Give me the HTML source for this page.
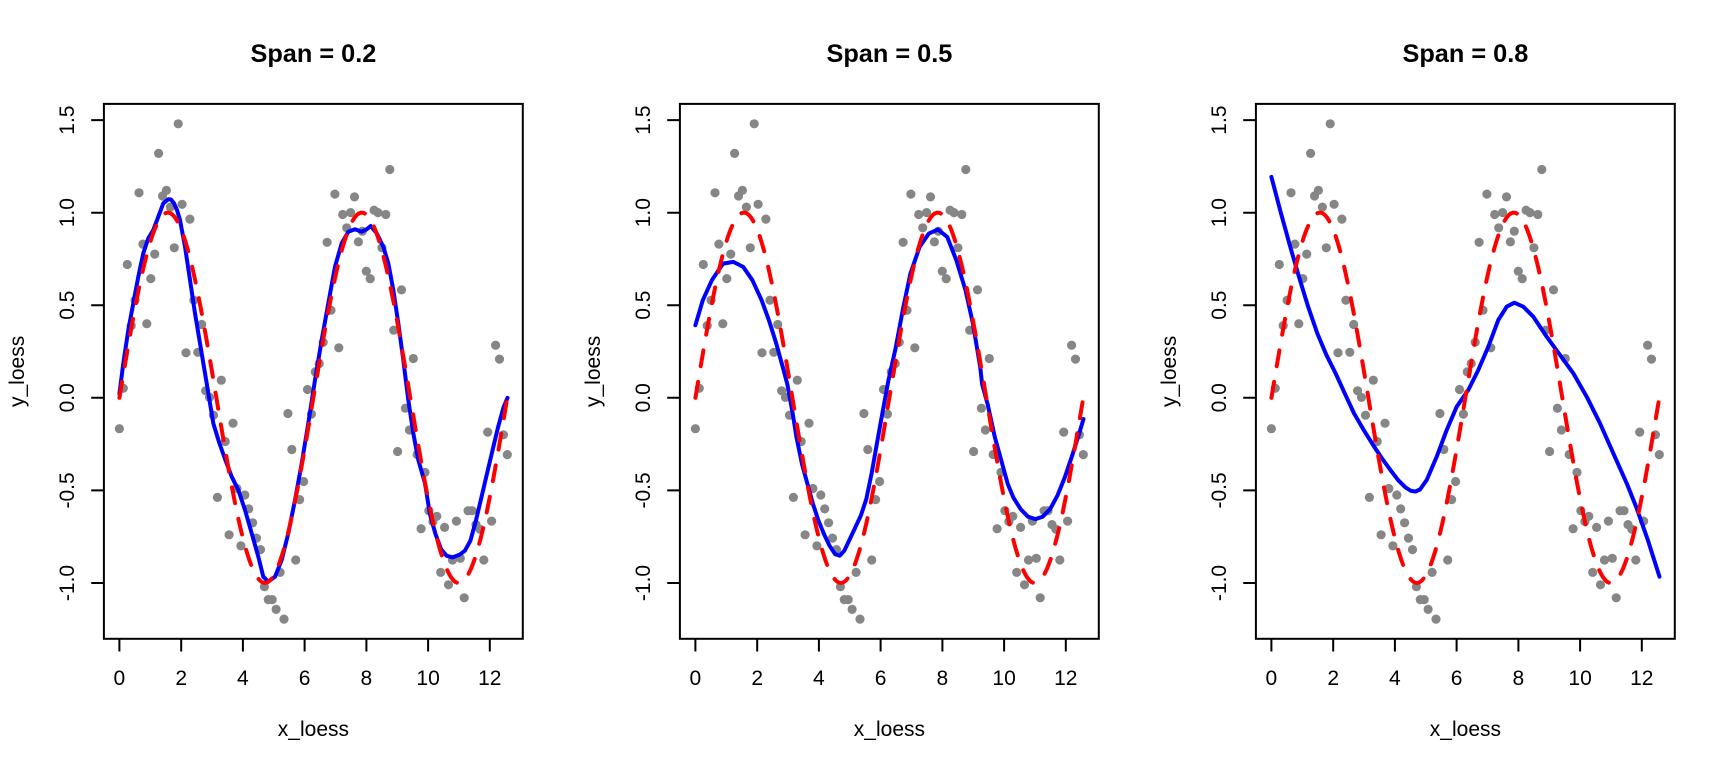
<!DOCTYPE html>
<html>
<head>
<meta charset="utf-8">
<style>
  html, body { margin: 0; padding: 0; background: #ffffff; }
  svg { display: block; }
  text { font-family: "Liberation Sans", Arial, sans-serif; fill: #000; }
  .tick { font-size: 21px; }
  .lab { font-size: 21px; }
  .ttl { font-size: 25.3px; font-weight: bold; }
</style>
</head>
<body>
<svg width="1728" height="768" viewBox="0 0 1728 768" xmlns="http://www.w3.org/2000/svg">
<rect x="0" y="0" width="1728" height="768" fill="#ffffff"/>
<defs>
  <g id="pts" fill="#868686">
    <circle cx="119.4" cy="428.7" r="4.6"/><circle cx="123.3" cy="388.2" r="4.6"/><circle cx="127.3" cy="264.5" r="4.6"/><circle cx="131.2" cy="325.6" r="4.6"/><circle cx="135.1" cy="300.2" r="4.6"/>
    <circle cx="139.0" cy="192.8" r="4.6"/><circle cx="142.9" cy="244.1" r="4.6"/><circle cx="146.8" cy="323.7" r="4.6"/><circle cx="150.8" cy="278.6" r="4.6"/><circle cx="154.7" cy="254.1" r="4.6"/>
    <circle cx="158.6" cy="153.4" r="4.6"/><circle cx="162.5" cy="196.0" r="4.6"/><circle cx="166.4" cy="190.4" r="4.6"/><circle cx="170.4" cy="207.1" r="4.6"/><circle cx="174.3" cy="247.8" r="4.6"/>
    <circle cx="178.2" cy="123.8" r="4.6"/><circle cx="182.1" cy="204.3" r="4.6"/><circle cx="186.0" cy="352.8" r="4.6"/><circle cx="189.9" cy="219.1" r="4.6"/><circle cx="193.9" cy="300.2" r="4.6"/>
    <circle cx="197.8" cy="352.3" r="4.6"/><circle cx="201.7" cy="324.5" r="4.6"/><circle cx="205.6" cy="390.8" r="4.6"/><circle cx="209.5" cy="397.4" r="4.6"/><circle cx="213.5" cy="415.2" r="4.6"/>
    <circle cx="217.4" cy="497.4" r="4.6"/><circle cx="221.3" cy="380.2" r="4.6"/><circle cx="225.2" cy="441.5" r="4.6"/><circle cx="229.1" cy="534.8" r="4.6"/><circle cx="233.0" cy="423.2" r="4.6"/>
    <circle cx="236.9" cy="488.5" r="4.6"/><circle cx="240.9" cy="545.9" r="4.6"/><circle cx="244.8" cy="495.0" r="4.6"/><circle cx="248.7" cy="508.9" r="4.6"/><circle cx="252.6" cy="522.8" r="4.6"/>
    <circle cx="256.5" cy="538.1" r="4.6"/><circle cx="260.5" cy="549.6" r="4.6"/><circle cx="264.4" cy="586.7" r="4.6"/><circle cx="268.3" cy="599.6" r="4.6"/><circle cx="272.2" cy="599.6" r="4.6"/>
    <circle cx="276.1" cy="609.4" r="4.6"/><circle cx="280.1" cy="572.4" r="4.6"/><circle cx="284.0" cy="619.1" r="4.6"/><circle cx="287.9" cy="413.5" r="4.6"/><circle cx="291.8" cy="449.5" r="4.6"/>
    <circle cx="295.7" cy="560.0" r="4.6"/><circle cx="299.6" cy="499.6" r="4.6"/><circle cx="303.6" cy="481.5" r="4.6"/><circle cx="307.5" cy="389.5" r="4.6"/><circle cx="311.4" cy="414.1" r="4.6"/>
    <circle cx="315.3" cy="371.9" r="4.6"/><circle cx="319.2" cy="363.5" r="4.6"/><circle cx="323.2" cy="342.3" r="4.6"/><circle cx="327.1" cy="242.3" r="4.6"/><circle cx="331.0" cy="310.2" r="4.6"/>
    <circle cx="334.9" cy="194.1" r="4.6"/><circle cx="338.8" cy="347.8" r="4.6"/><circle cx="342.7" cy="214.5" r="4.6"/><circle cx="346.7" cy="227.8" r="4.6"/><circle cx="350.6" cy="212.6" r="4.6"/>
    <circle cx="354.5" cy="196.9" r="4.6"/><circle cx="358.4" cy="241.9" r="4.6"/><circle cx="362.3" cy="231.2" r="4.6"/><circle cx="366.3" cy="271.2" r="4.6"/><circle cx="370.2" cy="278.7" r="4.6"/>
    <circle cx="374.1" cy="210.2" r="4.6"/><circle cx="378.0" cy="212.6" r="4.6"/><circle cx="381.9" cy="247.8" r="4.6"/><circle cx="385.8" cy="214.5" r="4.6"/><circle cx="389.8" cy="169.5" r="4.6"/>
    <circle cx="393.7" cy="330.2" r="4.6"/><circle cx="397.6" cy="451.5" r="4.6"/><circle cx="401.5" cy="289.9" r="4.6"/><circle cx="405.4" cy="408.2" r="4.6"/><circle cx="409.4" cy="430.0" r="4.6"/>
    <circle cx="413.3" cy="358.5" r="4.6"/><circle cx="417.2" cy="454.5" r="4.6"/><circle cx="421.1" cy="528.7" r="4.6"/><circle cx="425.0" cy="472.4" r="4.6"/><circle cx="428.9" cy="510.7" r="4.6"/>
    <circle cx="432.9" cy="521.5" r="4.6"/><circle cx="436.8" cy="516.3" r="4.6"/><circle cx="440.7" cy="572.4" r="4.6"/><circle cx="444.6" cy="527.4" r="4.6"/><circle cx="448.5" cy="584.8" r="4.6"/>
    <circle cx="452.5" cy="560.0" r="4.6"/><circle cx="456.4" cy="521.1" r="4.6"/><circle cx="460.3" cy="558.3" r="4.6"/><circle cx="464.2" cy="597.8" r="4.6"/><circle cx="468.1" cy="510.7" r="4.6"/>
    <circle cx="472.0" cy="510.7" r="4.6"/><circle cx="476.0" cy="524.6" r="4.6"/><circle cx="479.9" cy="529.3" r="4.6"/><circle cx="483.8" cy="560.0" r="4.6"/><circle cx="487.7" cy="432.1" r="4.6"/>
    <circle cx="491.6" cy="521.1" r="4.6"/><circle cx="495.6" cy="345.2" r="4.6"/><circle cx="499.5" cy="359.1" r="4.6"/><circle cx="503.4" cy="434.8" r="4.6"/><circle cx="507.3" cy="454.6" r="4.6"/>
  </g>
  <path id="sine" fill="none" stroke="#ff0000" stroke-width="4" stroke-dasharray="16 16" stroke-linecap="round" stroke-linejoin="round"
    d="M119.42,397.8
       c15.81,-94.85 30.94,-185.15 48.48,-185.15
       c17.55,0 32.67,90.30 48.48,185.15
       c15.81,94.85 30.94,185.15 48.48,185.15
       c17.55,0 32.67,-90.30 48.48,-185.15
       c15.81,-94.85 30.94,-185.15 48.48,-185.15
       c17.55,0 32.67,90.30 48.48,185.15
       c15.81,94.85 30.94,185.15 48.48,185.15
       c17.55,0 32.67,-90.30 48.48,-185.15"/>
  <g id="axes" stroke="#000" stroke-width="2" fill="none">
    <rect x="103.9" y="103.9" width="418.9" height="534.9"/>
    <path d="M119.4,638.8V651.5 M181.2,638.8V651.5 M242.9,638.8V651.5 M304.6,638.8V651.5 M366.4,638.8V651.5 M428.1,638.8V651.5 M489.8,638.8V651.5"/>
    <path d="M103.9,583.0H91.2 M103.9,490.4H91.2 M103.9,397.8H91.2 M103.9,305.2H91.2 M103.9,212.7H91.2 M103.9,120.1H91.2"/>
  </g>
</defs>

<!-- Panel 1 -->
<g>
  <use href="#pts"/>
  <path fill="none" stroke="#0000ff" stroke-width="4" stroke-linejoin="round" stroke-linecap="round"
    d="M119.4,394 L123.3,363.3 128.3,330 133.3,303.3 138.3,276.7 143.3,253.3 148.3,238.3 153.3,230 158.3,216.7 163.3,203.3 168.3,199.3 171,199.5 174,203.3 177,210 180,220 185,246.7 190,280 195,313.3 200,343.3 206.7,383.3 213.3,423.3 219,442 225,459 231.7,476.7 238.3,490 245,510 251.7,533.3 258.3,556.7 263.3,576.7 268.3,581.7 275,576.7 281.7,560 288.3,533.3 295,500 301.7,463.3 308.3,423.3 315,380 321.7,340 328.3,303.3 335,266.7 341.7,243.3 348.3,231.7 355,229.3 361.7,231.7 366.7,229.3 370.7,226 376.7,233.3 383.3,246.7 388.3,263.3 393.3,290 398.3,323.3 403.3,360 408.3,400 413.3,433.3 418.3,460 425,483.3 429.9,514.1 435.5,534.1 441.0,549.1 446.5,555.7 452.7,557.4 459.4,554.8 464.9,550.7 470.4,540.7 475.9,520.7 481.4,497.4 486.9,474.1 492.4,450.8 498.0,427.4 503.5,407.4 507.5,397.8"/>
  <use href="#sine"/>
  <use href="#axes"/>
  <text class="ttl" x="313.4" y="62" text-anchor="middle">Span = 0.2</text>
  <g class="tick" text-anchor="middle">
    <text x="119.4" y="685">0</text><text x="181.2" y="685">2</text><text x="242.9" y="685">4</text><text x="304.6" y="685">6</text><text x="366.4" y="685">8</text><text x="428.1" y="685">10</text><text x="489.8" y="685">12</text>
    <text transform="translate(74,583.0) rotate(-90)">-1.0</text>
    <text transform="translate(74,490.4) rotate(-90)">-0.5</text>
    <text transform="translate(74,397.8) rotate(-90)">0.0</text>
    <text transform="translate(74,305.2) rotate(-90)">0.5</text>
    <text transform="translate(74,212.7) rotate(-90)">1.0</text>
    <text transform="translate(74,120.1) rotate(-90)">1.5</text>
  </g>
  <text class="lab" x="313.4" y="736" text-anchor="middle">x_loess</text>
  <text class="lab" transform="translate(24,371.4) rotate(-90)" text-anchor="middle">y_loess</text>
</g>

<!-- Panel 2 -->
<g transform="translate(576,0)">
  <use href="#pts"/>
  <path fill="none" stroke="#0000ff" stroke-width="4" stroke-linejoin="round" stroke-linecap="round"
    d="M119.4,325.2 L126.8,300.2 135.9,280.2 147.0,263.6 157.3,261.9 167.2,266.9 176.4,280.2 185.6,300.2 192.9,320.2 200.3,343.6 207.6,370.2 211.3,384.1 216.8,414.1 220.5,437.4 226.0,464.1 231.5,484.1 237.0,504.1 242.5,520.7 248.0,534.1 253.5,545.7 259.1,554.1 263.8,555.7 268.3,550.7 273.8,539.1 279.3,527.4 284.8,515.7 290.3,499.1 295.8,472.4 301.3,441.3 306.8,410.8 312.3,381.1 319.7,347.8 327.0,308.9 334.4,273.6 343.6,246.9 352.8,233.6 362.0,229.5 371.2,236.9 380.3,260.2 389.5,290.2 396.9,323.6 404.2,366.9 406.1,384.1 411.6,404.1 418.9,437.4 426.3,464.1 431.8,484.1 437.3,497.4 444.6,509.1 452.0,516.7 459.4,519.1 466.7,516.7 474.1,509.1 481.4,495.7 488.8,477.4 496.1,455.8 503.5,432.4 507.5,419.1"/>
  <use href="#sine"/>
  <use href="#axes"/>
  <text class="ttl" x="313.4" y="62" text-anchor="middle">Span = 0.5</text>
  <g class="tick" text-anchor="middle">
    <text x="119.4" y="685">0</text><text x="181.2" y="685">2</text><text x="242.9" y="685">4</text><text x="304.6" y="685">6</text><text x="366.4" y="685">8</text><text x="428.1" y="685">10</text><text x="489.8" y="685">12</text>
    <text transform="translate(74,583.0) rotate(-90)">-1.0</text>
    <text transform="translate(74,490.4) rotate(-90)">-0.5</text>
    <text transform="translate(74,397.8) rotate(-90)">0.0</text>
    <text transform="translate(74,305.2) rotate(-90)">0.5</text>
    <text transform="translate(74,212.7) rotate(-90)">1.0</text>
    <text transform="translate(74,120.1) rotate(-90)">1.5</text>
  </g>
  <text class="lab" x="313.4" y="736" text-anchor="middle">x_loess</text>
  <text class="lab" transform="translate(24,371.4) rotate(-90)" text-anchor="middle">y_loess</text>
</g>

<!-- Panel 3 -->
<g transform="translate(1152,0)">
  <use href="#pts"/>
  <path fill="none" stroke="#0000ff" stroke-width="4" stroke-linejoin="round" stroke-linecap="round"
    d="M119.4,176.9 L128.6,211.9 137.8,245.2 147.0,276.9 156.2,306.9 165.4,333.6 174.5,355.2 183.7,373.5 188.5,384.1 194.8,397.8 202.1,413.5 211.3,429.3 220.5,444.1 229.7,458.0 238.9,470.7 246.2,480.2 253.5,487.4 259.1,490.9 263.5,491.5 268,489.5 274.7,480 284.7,456.7 294.7,430 304.7,406.7 316.3,390 326.3,370 336.3,346.7 346.3,320 354.7,306.7 362.3,302.7 371.3,306.7 381.3,316.7 394.7,336.7 408,355 421.3,373.3 434.7,396.7 448,423.3 461.3,453.3 474.7,483.3 484.7,508.3 496,540.5 507.5,576.7"/>
  <use href="#sine"/>
  <use href="#axes"/>
  <text class="ttl" x="313.4" y="62" text-anchor="middle">Span = 0.8</text>
  <g class="tick" text-anchor="middle">
    <text x="119.4" y="685">0</text><text x="181.2" y="685">2</text><text x="242.9" y="685">4</text><text x="304.6" y="685">6</text><text x="366.4" y="685">8</text><text x="428.1" y="685">10</text><text x="489.8" y="685">12</text>
    <text transform="translate(74,583.0) rotate(-90)">-1.0</text>
    <text transform="translate(74,490.4) rotate(-90)">-0.5</text>
    <text transform="translate(74,397.8) rotate(-90)">0.0</text>
    <text transform="translate(74,305.2) rotate(-90)">0.5</text>
    <text transform="translate(74,212.7) rotate(-90)">1.0</text>
    <text transform="translate(74,120.1) rotate(-90)">1.5</text>
  </g>
  <text class="lab" x="313.4" y="736" text-anchor="middle">x_loess</text>
  <text class="lab" transform="translate(24,371.4) rotate(-90)" text-anchor="middle">y_loess</text>
</g>
</svg>
</body>
</html>
